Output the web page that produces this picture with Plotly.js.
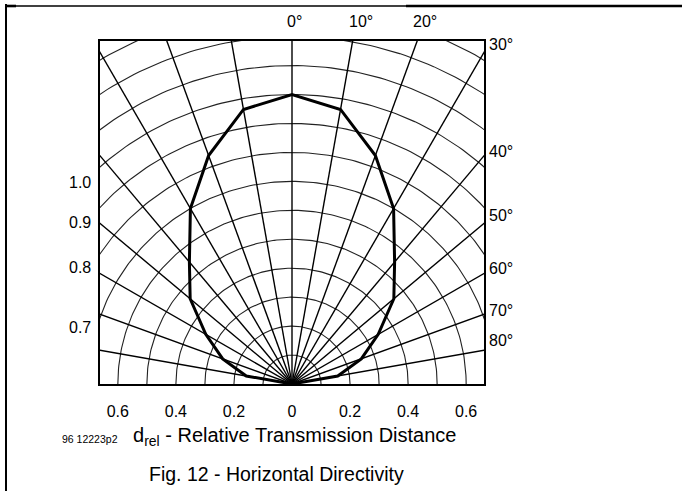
<!DOCTYPE html>
<html>
<head>
<meta charset="utf-8">
<script src="https://cdn.plot.ly/plotly-3.0.1.min.js"></script>
<style>
  html, body { margin: 0; padding: 0; background: #fff; }
  #chart { width: 682px; height: 491px; }
</style>
</head>
<body>
<div id="chart"></div>
<script>
// ---- data ----
const angleDeg = [-90, -80, -70, -60, -50, -40, -30, -20, -10, 0, 10, 20, 30, 40, 50, 60, 70, 80, 90];
const dRel     = [0, 0.16, 0.254, 0.343, 0.458, 0.55, 0.70, 0.84, 0.963, 1.0, 0.963, 0.84, 0.70, 0.55, 0.458, 0.343, 0.254, 0.16, 0];

const gridRadii   = [0.1, 0.2, 0.3, 0.4, 0.5, 0.6, 0.7, 0.8, 0.9, 1.0, 1.1, 1.2, 1.3];
const spokeAngles = [-80, -70, -60, -50, -40, -30, -20, -10, 0, 10, 20, 30, 40, 50, 60, 70, 80];

const xTickVals   = [-0.6, -0.4, -0.2, 0, 0.2, 0.4, 0.6];
const xTickText   = ["0.6", "0.4", "0.2", "0", "0.2", "0.4", "0.6"];
const topAngleLabels   = ["0°", "10°", "20°"];
const rightAngleLabels = ["30°", "40°", "50°", "60°", "70°", "80°"];
const leftScaleLabels  = ["1.0", "0.9", "0.8", "0.7"];

// ---- helpers ----
const rad = d => d * Math.PI / 180;
const toX = (r, a) => r * Math.sin(rad(a));
const toY = (r, a) => r * Math.cos(rad(a));

// grid arcs
const arcX = [], arcY = [];
gridRadii.forEach(r => {
  for (let a = -90; a <= 90; a += 1) { arcX.push(toX(r, a)); arcY.push(toY(r, a)); }
  arcX.push(null); arcY.push(null);
});
// spokes
const spX = [], spY = [];
spokeAngles.forEach(a => {
  spX.push(0, toX(1.6, a), null);
  spY.push(0, toY(1.6, a), null);
});

const curveX = angleDeg.map((a, i) => toX(dRel[i], a));
const curveY = angleDeg.map((a, i) => toY(dRel[i], a));

const traces = [
  { x: arcX, y: arcY, mode: 'lines', line: { color: '#222', width: 1.1 }, hoverinfo: 'skip', showlegend: false },
  { x: spX, y: spY, mode: 'lines', line: { color: '#000', width: 1.4 }, hoverinfo: 'skip', showlegend: false },
  { x: curveX, y: curveY, mode: 'lines', line: { color: '#000', width: 3 }, showlegend: false }
];

// plot area: x 100..484, y 41..384 (pixels)
const PL = 100, PR = 484, PT = 41, PB = 384;
const px = v => (v - PL) / (PR - PL);
const py = v => (PB - v) / (PB - PT);

const font = { family: 'Liberation Sans, Arial, sans-serif', color: '#000' };
const ann = [];
const topPos = [294, 361, 425];
topAngleLabels.forEach((t, i) => ann.push({ xref: 'paper', yref: 'paper', x: px(topPos[i]), y: py(22), text: t, showarrow: false, xanchor: 'center', yanchor: 'middle', font: { ...font, size: 16 } }));
const rightPos = [45, 151, 215, 268, 310, 340];
rightAngleLabels.forEach((t, i) => ann.push({ xref: 'paper', yref: 'paper', x: px(487), y: py(rightPos[i]), text: t, showarrow: false, xanchor: 'left', yanchor: 'middle', font: { ...font, size: 16 } }));
const leftPos = [182, 222, 267, 327];
leftScaleLabels.forEach((t, i) => ann.push({ xref: 'paper', yref: 'paper', x: px(93), y: py(leftPos[i]), text: t, showarrow: false, xanchor: 'right', yanchor: 'middle', font: { ...font, size: 16 } }));
ann.push({ xref: 'paper', yref: 'paper', x: px(131), y: py(437), text: 'd<sub>rel</sub> - Relative Transmission Distance', showarrow: false, xanchor: 'left', yanchor: 'middle', font: { ...font, size: 20 } });
ann.push({ xref: 'paper', yref: 'paper', x: px(60), y: py(439), text: '96 12223p2', showarrow: false, xanchor: 'left', yanchor: 'middle', font: { ...font, size: 10.5 } });
ann.push({ xref: 'paper', yref: 'paper', x: px(147), y: py(474), text: 'Fig. 12 - Horizontal Directivity', showarrow: false, xanchor: 'left', yanchor: 'middle', font: { ...font, size: 19.5 } });

const shapes = [
  { type: 'line', xref: 'paper', yref: 'paper', x0: px(6), x1: px(6), y0: py(4), y1: py(495), line: { color: '#000', width: 2 } },
  { type: 'line', xref: 'paper', yref: 'paper', x0: px(5), x1: px(406), y0: py(6), y1: py(6), line: { color: '#000', width: 1.3 } },
  { type: 'line', xref: 'paper', yref: 'paper', x0: px(406), x1: px(690), y0: py(6), y1: py(6), line: { color: '#000', width: 2.6 } },
  { type: 'line', xref: 'paper', yref: 'paper', x0: px(5), x1: px(16), y0: py(6), y1: py(6), line: { color: '#000', width: 2.6 } }
];

const layout = {
  width: 682, height: 491,
  margin: { l: PL, r: 682 - PR, t: PT, b: 491 - PB },
  paper_bgcolor: '#fff', plot_bgcolor: '#fff',
  showlegend: false,
  xaxis: {
    range: [-0.6615, 0.6615], showgrid: false, zeroline: false,
    showline: true, mirror: true, linecolor: '#000', linewidth: 2,
    ticks: '', tickvals: xTickVals, ticktext: xTickText,
    tickfont: { ...font, size: 16 }, ticklabelstandoff: 12, fixedrange: true
  },
  yaxis: {
    range: [0, 1.1848], showgrid: false, zeroline: false,
    showline: true, mirror: true, linecolor: '#000', linewidth: 2,
    ticks: '', showticklabels: false, fixedrange: true
  },
  annotations: ann,
  shapes: shapes
};

Plotly.newPlot('chart', traces, layout, { displayModeBar: false, staticPlot: true });
</script>
</body>
</html>
